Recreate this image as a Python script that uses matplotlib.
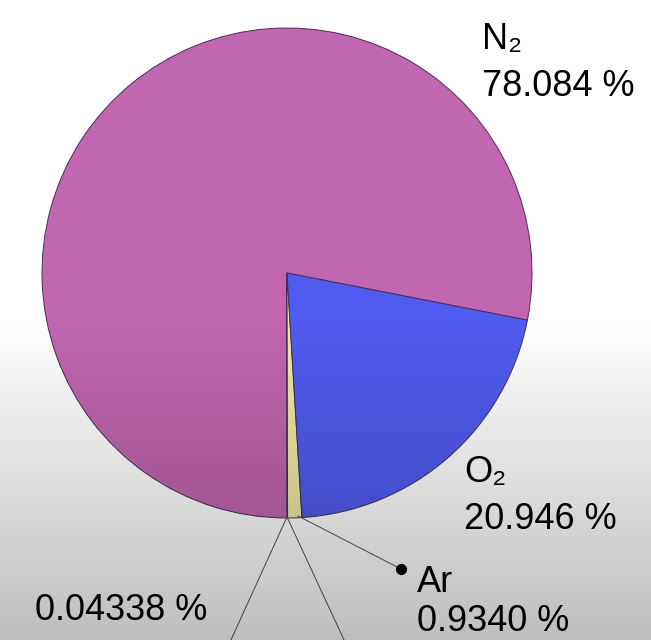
import matplotlib.pyplot as plt
import numpy as np

# composition of dry air, in percent
gases = ["N₂", "CO₂", "Ar", "O₂"]
shares = [78.084, 0.04338, 0.9340, 20.946]
colors = ["#c166b1", "#e6e08a", "#eeeaa4", "#505cf0"]

W, H = 651, 640
fig = plt.figure(figsize=(W / 100, H / 100), dpi=100)
ax = fig.add_axes([0, 0, 1, 1])

cx, cy, r = 287, H - 273, 245
ax.pie(shares, colors=colors, startangle=-11.1, counterclock=True,
       center=(cx, cy), radius=r, frame=True,
       wedgeprops=dict(edgecolor="#4a2c5a", linewidth=0.7))

font = ["Liberation Sans", "DejaVu Sans"]
fs = 26


def label(x, y_name, y_val, name, val):
    # y values are pixel rows from the top
    if name:
        ax.text(x, H - y_name, name, fontsize=fs, family=font, va="baseline", ha="left")
    ax.text(x, H - y_val, f"{val} %", fontsize=fs, family=font, va="baseline", ha="left")


label(482, 49, 96, gases[0], "78.084")
label(464, 482, 529, gases[3], "20.946")
label(417, 592, 631, gases[2], "0.9340")
label(35, 0, 620, None, "0.04338")

# leader lines
lc = "#555555"
ax.plot([298, 401], [H - 516, H - 569], color=lc, lw=0.7)
ax.plot([401], [H - 569], "o", color="black", ms=7)
ax.plot([287, 230], [H - 517, -2], color=lc, lw=0.7)
ax.plot([287, 345], [H - 517, -2], color=lc, lw=0.7)

# grey shading over the lower part of the frame
rows = np.arange(H)
alpha = np.clip((rows - 315) / (H - 315), 0, 1) * 0.26
shade = np.zeros((H, 1, 4))
shade[:, 0, 3] = alpha
ax.imshow(shade, extent=[0, W, 0, H], origin="upper", aspect="auto", zorder=10)

ax.set_xlim(0, W)
ax.set_ylim(0, H)
ax.set_aspect("equal")
ax.axis("off")

fig.savefig("out.png", dpi=100)
